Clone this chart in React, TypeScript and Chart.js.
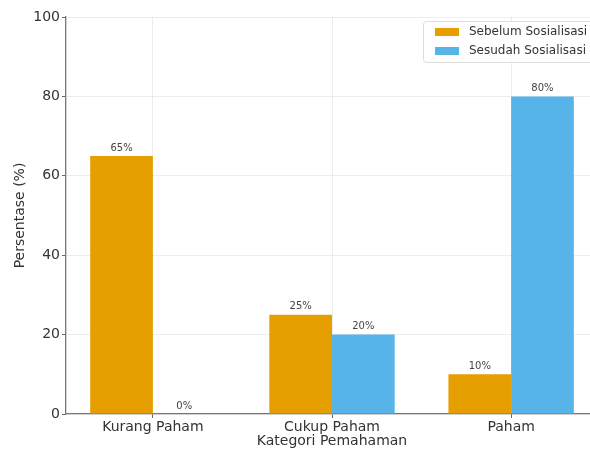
import React, { useEffect, useRef } from "react";
import { Chart, registerables } from "chart.js";

Chart.register(...registerables);

const categories = ["Kurang Paham", "Cukup Paham", "Paham"];
const sebelum = [65, 25, 10];
const sesudah = [0, 20, 80];
const seriesLabels = ["Sebelum Sosialisasi", "Sesudah Sosialisasi"];
const seriesColors = ["#E69F00", "#56B4E9"];
const yTicks = [0, 20, 40, 60, 80, 100];

const FONT = "'DejaVu Sans', sans-serif";

const valueLabels = {
  id: "valueLabels",
  afterDatasetsDraw(chart: any) {
    const ctx = chart.ctx;
    ctx.save();
    ctx.font = `10px ${FONT}`;
    ctx.fillStyle = "#444";
    ctx.textAlign = "center";
    ctx.textBaseline = "bottom";
    chart.data.datasets.forEach((ds: any, di: number) => {
      const meta = chart.getDatasetMeta(di);
      meta.data.forEach((el: any, i: number) => {
        const v = ds.data[i].y;
        ctx.fillText(`${v}%`, el.x, el.y - 3);
      });
    });
    ctx.restore();
  },
};

const boxLegend = {
  id: "boxLegend",
  afterDraw(chart: any) {
    const ctx = chart.ctx;
    const area = chart.chartArea;
    const w = 172;
    const h = 41;
    const x = area.right - w - 3;
    const y = area.top + 4;
    ctx.save();
    ctx.fillStyle = "rgba(255,255,255,0.85)";
    ctx.strokeStyle = "#dddddd";
    ctx.lineWidth = 1;
    ctx.beginPath();
    (ctx as any).roundRect(x + 0.5, y + 0.5, w, h, 3);
    ctx.fill();
    ctx.stroke();
    ctx.font = `12px ${FONT}`;
    ctx.textBaseline = "middle";
    ctx.textAlign = "left";
    chart.data.datasets.forEach((ds: any, i: number) => {
      const cy = y + 11 + i * 19;
      ctx.fillStyle = ds.backgroundColor;
      ctx.fillRect(x + 12, cy - 4, 24, 8);
      ctx.fillStyle = "#333";
      ctx.fillText(ds.label, x + 46, cy);
    });
    ctx.restore();
  },
};

export default function App() {
  const ref = useRef<HTMLCanvasElement>(null);

  useEffect(() => {
    if (!ref.current) return;
    const chart = new Chart(ref.current, {
      type: "bar",
      data: {
        datasets: [
          {
            label: seriesLabels[0],
            data: categories.map((_, i) => ({ x: i, y: sebelum[i] })),
            backgroundColor: seriesColors[0],
            categoryPercentage: 0.7,
            barPercentage: 1.0,
          },
          {
            label: seriesLabels[1],
            data: categories.map((_, i) => ({ x: i, y: sesudah[i] })),
            backgroundColor: seriesColors[1],
            categoryPercentage: 0.7,
            barPercentage: 1.0,
          },
        ],
      },
      options: {
        animation: false,
        responsive: false,
        maintainAspectRatio: false,
        layout: { padding: { top: 17, right: 12, bottom: 0, left: 0 } },
        plugins: {
          legend: { display: false },
          tooltip: { enabled: false },
          title: { display: false },
        },
        scales: {
          x: {
            type: "linear",
            min: -0.485,
            max: 2.485,
            bounds: "data",
            offset: false,
            afterBuildTicks: (scale: any) => {
              scale.ticks = categories.map((_, i) => ({ value: i }));
            },
            afterFit: (scale: any) => {
              scale.height = 38;
            },
            ticks: {
              callback: (v: any) => categories[v as number],
              font: { family: FONT, size: 14 },
              color: "#333",
              padding: 1,
              maxRotation: 0,
              autoSkip: false,
            },
            grid: {
              offset: false,
              color: "rgba(0,0,0,0.07)",
              tickColor: "#666",
              tickLength: 4,
            },
            border: { color: "#777", width: 1.3 },
            title: {
              display: true,
              text: "Kategori Pemahaman",
              font: { family: FONT, size: 14 },
              color: "#333",
              padding: { top: 0, bottom: 2 },
            },
          },
          y: {
            min: 0,
            max: 100,
            afterBuildTicks: (scale: any) => {
              scale.ticks = yTicks.map((v) => ({ value: v }));
            },
            afterFit: (scale: any) => {
              scale.width = 66;
            },
            ticks: {
              font: { family: FONT, size: 14 },
              color: "#333",
              padding: 2,
            },
            grid: {
              color: "rgba(0,0,0,0.07)",
              tickColor: "#666",
              tickLength: 4,
            },
            border: { color: "#777", width: 1.3 },
            title: {
              display: true,
              text: "Persentase (%)",
              font: { family: FONT, size: 14 },
              color: "#333",
              padding: { top: 12, bottom: 0 },
            },
          },
        },
      },
      plugins: [valueLabels, boxLegend],
    });
    return () => chart.destroy();
  }, []);

  return (
    <div
      style={{
        position: "fixed",
        left: 0,
        top: 0,
        width: 590,
        height: 452,
        overflow: "hidden",
        background: "#fff",
      }}
    >
      <canvas ref={ref} width={610} height={452} style={{ display: "block" }} />
    </div>
  );
}
